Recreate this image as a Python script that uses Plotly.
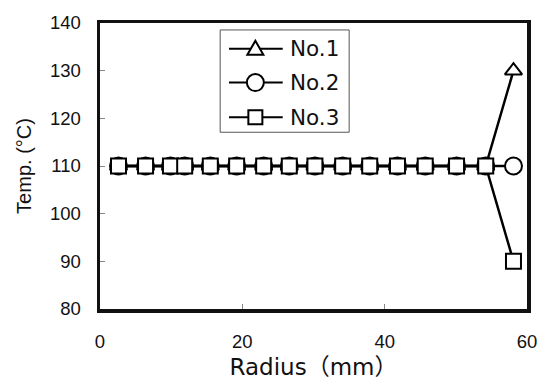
import plotly.graph_objects as go

# ---- data ----
radius = [2.6, 6.4, 9.9, 11.9, 15.5, 19.2, 23.0, 26.6, 30.2, 34.1, 37.9, 41.8, 45.7, 50.1, 54.2, 58.1]
temp_no1 = [110] * 15 + [130]
temp_no2 = [110] * 15 + [110]
temp_no3 = [110] * 15 + [90]
series_names = ["No.1", "No.2", "No.3"]
series_symbols = ["triangle-up", "circle", "square"]
x_ticks = [0, 20, 40, 60]
y_ticks = [80, 90, 100, 110, 120, 130, 140]

W, H = 549, 389
ML, MR, MT, MB = 100, 12, 23, 78
PW, PH = W - ML - MR, H - MT - MB
FONT = "Liberation Sans, Arial, Noto Sans CJK JP, sans-serif"
WIDE = "DejaVu Sans, Noto Sans CJK JP, sans-serif"

fig = go.Figure()
sizes = {"triangle-up": 15, "circle": 17, "square": 15}
for name, ys, sym in zip(series_names, [temp_no1, temp_no2, temp_no3], series_symbols):
    fig.add_trace(go.Scatter(
        x=radius, y=ys, name=name, mode="lines+markers",
        line=dict(color="black", width=2.5),
        marker=dict(symbol=sym, size=sizes[sym], color="white",
                    line=dict(color="black", width=2)),
        showlegend=False, hoverinfo="skip",
    ))

def px2paper(px, py):
    return (px - ML) / PW, (H - MB - py) / PH

shapes = []
# legend box
x0, y0 = px2paper(223, 133)
x1, y1 = px2paper(355, 30)
shapes.append(dict(type="rect", xref="paper", yref="paper", x0=x0, y0=y0, x1=x1, y1=y1,
                   line=dict(color="#555", width=1), fillcolor="white", layer="above"))
annotations = []
legend_y = [49, 83, 118]
paths = {
    "triangle-up": "M-8,-6 L8,-6 L0,8 Z",
    "circle": None,
    "square": "M-7,-7 L7,-7 L7,7 L-7,7 Z",
}
for name, sym, py in zip(series_names, series_symbols, legend_y):
    lx0, ly = px2paper(232, py)
    lx1, _ = px2paper(287, py)
    shapes.append(dict(type="line", xref="paper", yref="paper", x0=lx0, x1=lx1, y0=ly, y1=ly,
                       line=dict(color="black", width=2), layer="above"))
    cx, _ = px2paper(259, py)
    if sym == "circle":
        shapes.append(dict(type="circle", xref="paper", yref="paper", xsizemode="pixel", ysizemode="pixel",
                           xanchor=cx, yanchor=ly, x0=-8.5, x1=8.5, y0=-8.5, y1=8.5,
                           line=dict(color="black", width=2), fillcolor="white", layer="above"))
    else:
        shapes.append(dict(type="path", xref="paper", yref="paper", xsizemode="pixel", ysizemode="pixel",
                           xanchor=cx, yanchor=ly, path=paths[sym],
                           line=dict(color="black", width=2), fillcolor="white", layer="above"))
    tx, _ = px2paper(292, py)
    annotations.append(dict(text=name, xref="paper", yref="paper", x=tx, y=ly, xanchor="left",
                            yanchor="middle", showarrow=False, font=dict(size=21.5, color="#111", family=WIDE)))

fig.update_layout(
    width=W, height=H,
    margin=dict(l=ML, r=MR, t=MT, b=MB),
    plot_bgcolor="white", paper_bgcolor="white",
    font=dict(family=FONT, size=18.5, color="#111"),
    shapes=shapes, annotations=annotations,
    xaxis=dict(range=[0, 60], tickvals=x_ticks, ticks="inside", ticklen=5, tickcolor="#888",
               showline=True, linewidth=3.5, linecolor="#111", mirror=True, showgrid=False,
               zeroline=False, ticklabelstandoff=13,
               title=dict(text="Radius（mm）", font=dict(size=23, family=WIDE), standoff=9)),
    yaxis=dict(range=[80, 140], tickvals=y_ticks, ticks="inside", ticklen=5, tickcolor="#888",
               showline=True, linewidth=3.5, linecolor="#111", mirror=True, showgrid=False,
               zeroline=False, ticklabelstandoff=12,
               title=dict(text="Temp. (°C)", font=dict(size=20), standoff=14)),
)

fig.write_html("out.html", config={"displayModeBar": False, "staticPlot": True},
               post_script="document.body.style.margin='0';document.body.style.overflow='hidden';")
